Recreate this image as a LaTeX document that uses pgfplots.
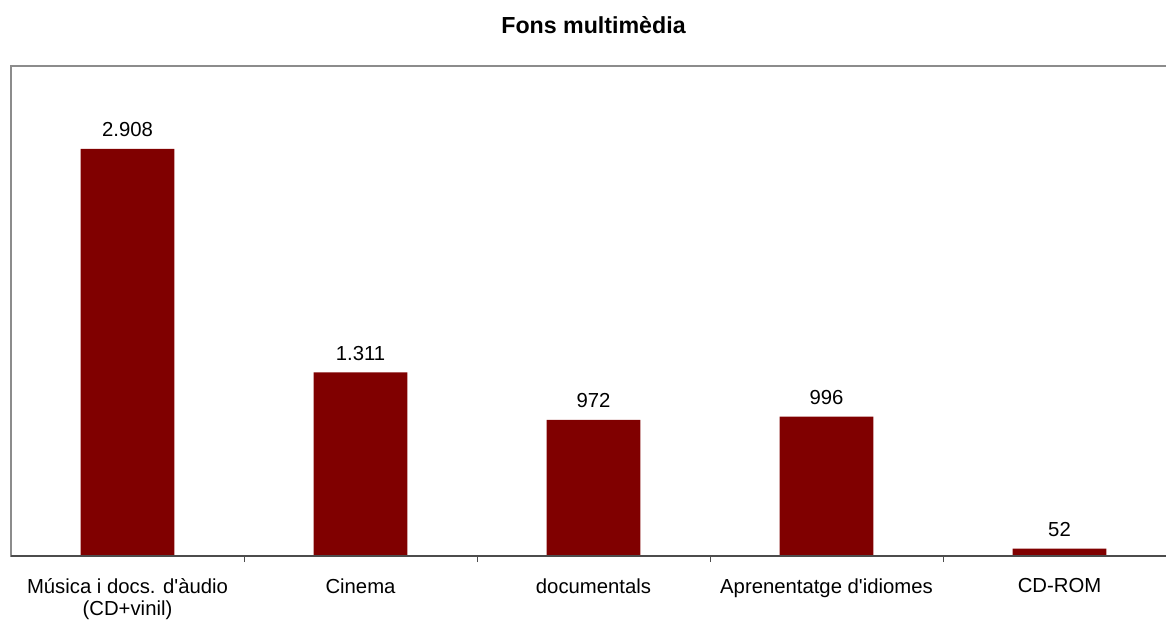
\documentclass[border=0pt]{standalone}
\usepackage{pgfplots}
\pgfplotsset{compat=1.18}
\usepackage{fontspec}
\setmainfont{Liberation Sans}
\definecolor{barred}{HTML}{800000}

\begin{document}
\begin{tikzpicture}
\begin{axis}[
  name=ax,
  at={(0,0)}, anchor=south west,
  scale only axis,
  width=582.5bp, height=245bp,
  xmin=-0.5, xmax=4.5,
  ymin=0, ymax=3500,
  ybar, bar width=0.403,
  axis line style={draw=black!45, line width=0.6bp},
  ytick=\empty,
  xtick={0,1,2,3,4},
  xticklabels={{Música i docs. d\textquotesingle àudio\\(CD+vinil)}, Cinema, documentals,
    {Aprenentatge d\textquotesingle idiomes}, CD-ROM},
  xtick pos=bottom,
  major tick length=0pt,
  minor xtick={0.5,1.5,2.5,3.5},
  minor tick length=3bp,
  tick align=outside,
  minor tick style={draw=black!70, line width=0.5bp},
  x tick label style={font=\fontsize{10.15bp}{11bp}\selectfont, align=center,
    inner sep=0pt, anchor=north, yshift=-11bp},
  nodes near coords, point meta=explicit symbolic,
  nodes near coords style={font=\fontsize{10.15bp}{11bp}\selectfont,
    anchor=south, inner sep=0pt, yshift=5.8bp, text=black},
  clip=false,
]
\addplot[fill=barred, draw=none] coordinates {
  (0,2908) [2.908]
  (1,1311) [1.311]
  (2,972) [972]
  (3,996) [996]
  (4,52) [52]
};
\draw[black!70, line width=1bp] (rel axis cs:0,0) -- (rel axis cs:1,0);
\end{axis}
\node[anchor=base, font=\bfseries\fontsize{11.6bp}{13bp}\selectfont]
  at ([yshift=16bp]ax.north) {Fons multimèdia};
\pgfresetboundingbox
\path (-5.5bp,-32.5bp) rectangle (577.5bp,278bp);
\end{tikzpicture}
\end{document}
